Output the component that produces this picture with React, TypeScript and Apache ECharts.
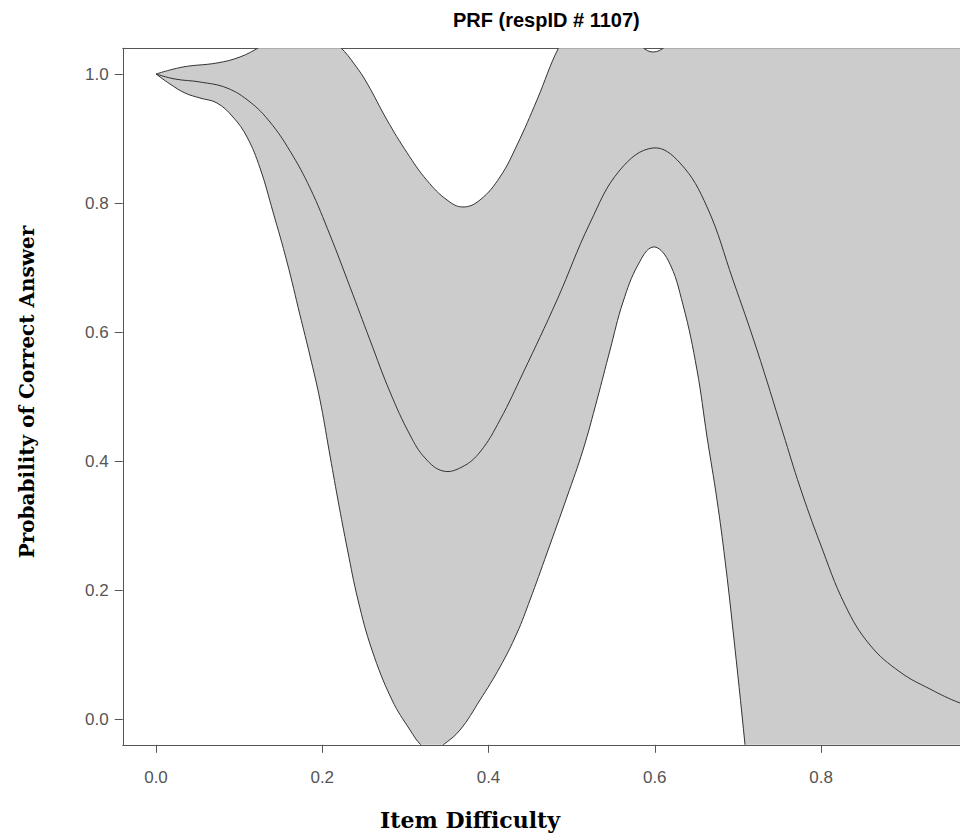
import React, { useEffect, useRef } from "react";
import * as echarts from "echarts";

const TITLE = "PRF (respID # 1107)";
const X_LABEL = "Item Difficulty";
const Y_LABEL = "Probability of Correct Answer";

const xTicks = [0, 0.2, 0.4, 0.6, 0.8];
const yTicks = [0, 0.2, 0.4, 0.6, 0.8, 1.0];

// Upper confidence band [item difficulty, probability]
const upperBand: [number, number][] = [
  [0, 1.0], [0.0325, 1.0109], [0.0734, 1.0171], [0.1011, 1.0264], [0.1251, 1.0419],
  [0.1492, 1.0605], [0.1732, 1.0713], [0.1973, 1.0651], [0.2214, 1.0419], [0.2394, 1.014],
  [0.2538, 0.986], [0.2779, 0.9287], [0.302, 0.878], [0.326, 0.835], [0.3501, 0.8047],
  [0.3693, 0.7938], [0.3898, 0.8047], [0.4138, 0.8403], [0.4343, 0.8899], [0.4583, 0.9597],
  [0.4848, 1.0419], [0.5101, 1.0915], [0.5462, 1.0915], [0.5702, 1.0605], [0.5847, 1.0419],
  [0.5979, 1.0341], [0.6123, 1.0419], [0.6424, 1.076], [0.6905, 1.1147], [0.7747, 1.1612],
  [1.0153, 1.17],
];

// Person response function (middle curve)
const middleCurve: [number, number][] = [
  [0, 1.0], [0.0229, 0.9922], [0.0529, 0.9876], [0.0854, 0.9783], [0.1131, 0.9566],
  [0.1371, 0.9256], [0.1612, 0.8806], [0.1853, 0.8233], [0.2093, 0.7504], [0.2334, 0.6698],
  [0.2574, 0.5876], [0.2815, 0.507], [0.3056, 0.4403], [0.3236, 0.4047], [0.3453, 0.3845],
  [0.3681, 0.3907], [0.3898, 0.414], [0.4138, 0.4636], [0.4415, 0.5364], [0.4824, 0.6496],
  [0.5221, 0.769], [0.5582, 0.8512], [0.5979, 0.8853], [0.6304, 0.862], [0.6629, 0.7938],
  [0.6941, 0.6806], [0.723, 0.5721], [0.7543, 0.4434], [0.7747, 0.3597], [0.7988, 0.2729],
  [0.8289, 0.1767], [0.8589, 0.1147], [0.895, 0.0729], [0.9311, 0.0465], [0.9672, 0.0248],
  [1.0033, 0.0109],
];

// Lower confidence band
const lowerBand: [number, number][] = [
  [0, 1.0], [0.0168, 0.9845], [0.0349, 0.9705], [0.0529, 0.9628], [0.0734, 0.955],
  [0.0926, 0.9333], [0.1095, 0.9023], [0.1251, 0.8543], [0.1408, 0.786], [0.1576, 0.7085],
  [0.1732, 0.6264], [0.1853, 0.5628], [0.1973, 0.4946], [0.2081, 0.4171], [0.2189, 0.3395],
  [0.2304, 0.262], [0.243, 0.1845], [0.2598, 0.107], [0.2839, 0.0295], [0.3056, -0.0171],
  [0.3188, -0.0403], [0.332, -0.0512], [0.3453, -0.0403], [0.3657, -0.0171], [0.3898, 0.0295],
  [0.4138, 0.0806], [0.4343, 0.1333], [0.4499, 0.1845], [0.4704, 0.2574], [0.4944, 0.3442],
  [0.5137, 0.4171], [0.5305, 0.4946], [0.5462, 0.5721], [0.5618, 0.6465], [0.5798, 0.7039],
  [0.5979, 0.7318], [0.6159, 0.7116], [0.634, 0.6419], [0.6508, 0.5411], [0.6629, 0.4372],
  [0.6749, 0.3395], [0.6845, 0.2465], [0.6941, 0.138], [0.7086, -0.0403], [0.7266, -0.2806],
  [0.7747, -0.5], [1.0153, -0.6],
];

const X_MIN = -0.04;
const X_MAX = 0.9672;
const Y_MIN = -0.04;
const Y_MAX = 1.04;

export default function App() {
  const ref = useRef<HTMLDivElement>(null);

  useEffect(() => {
    const chart = echarts.init(ref.current!, null, { renderer: "svg" });
    const axisColor = "#555";
    const curveColor = "#333";
    const fillColor = "#cccccc";
    const SMOOTH = 0.4;
    const sans = "'Liberation Sans', Arial, sans-serif";
    const serif = "'DejaVu Serif', 'Liberation Serif', serif";

    const axisLine = { show: true, onZero: false, lineStyle: { color: axisColor, width: 1 } };

    chart.setOption({
      animation: false,
      backgroundColor: "#ffffff",
      grid: { left: 122.75, right: 0, top: 48.2, bottom: 91.2 },
      xAxis: [
        {
          type: "value",
          min: X_MIN,
          max: X_MAX,
          position: "bottom",
          axisLine,
          axisTick: { show: true, customValues: xTicks, length: 8, lineStyle: { color: axisColor, width: 1 } },
          axisLabel: {
            customValues: xTicks,
            formatter: (v: number) => v.toFixed(1),
            fontSize: 17,
            color: axisColor,
            margin: 24,
            fontFamily: sans,
          },
          splitLine: { show: false },
        },
        {
          type: "value",
          min: X_MIN,
          max: X_MAX,
          position: "top",
          axisLine,
          axisTick: { show: false },
          axisLabel: { show: false },
          splitLine: { show: false },
        },
      ],
      yAxis: {
        type: "value",
        min: Y_MIN,
        max: Y_MAX,
        position: "left",
        axisLine,
        axisTick: { show: true, customValues: yTicks, length: 8, lineStyle: { color: axisColor, width: 1 } },
        axisLabel: {
          customValues: yTicks,
          formatter: (v: number) => v.toFixed(1),
          fontSize: 17,
          color: axisColor,
          margin: 14,
          fontFamily: sans,
        },
        splitLine: { show: false },
      },
      series: [
        {
          type: "custom",
          clip: true,
          silent: true,
          xAxisIndex: 0,
          yAxisIndex: 0,
          data: [[0, 0]],
          renderItem: (_params: any, api: any) => {
            const toPx = (pts: [number, number][]) => pts.map((p) => api.coord(p));
            const up = toPx(upperBand);
            const mid = toPx(middleCurve);
            const lo = toPx(lowerBand);
            const poly = up.concat(lo.slice().reverse());
            const line = (pts: number[][]) => ({
              type: "polyline",
              shape: { points: pts, smooth: SMOOTH },
              style: { fill: "none", stroke: curveColor, lineWidth: 1 },
            });
            return {
              type: "group",
              children: [
                {
                  type: "polygon",
                  shape: { points: poly, smooth: SMOOTH },
                  style: { fill: fillColor, stroke: "none" },
                },
                line(up),
                line(mid),
                line(lo),
              ],
            };
          },
        },
      ],
      graphic: [
        {
          type: "text",
          left: 453,
          top: 10,
          style: { text: TITLE, fontSize: 20, fontWeight: "bold", fill: "#000", fontFamily: sans },
        },
        {
          type: "text",
          x: 470,
          y: 820,
          style: {
            text: X_LABEL,
            fontSize: 22,
            fontWeight: "bold",
            fill: "#000",
            fontFamily: serif,
            align: "center",
            verticalAlign: "middle",
          },
        },
        {
          type: "text",
          x: 27,
          y: 392,
          rotation: Math.PI / 2,
          style: {
            text: Y_LABEL,
            fontSize: 20,
            fontWeight: "bold",
            fill: "#000",
            fontFamily: serif,
            align: "center",
            verticalAlign: "middle",
          },
        },
      ],
    });
    return () => chart.dispose();
  }, []);

  return <div ref={ref} style={{ position: "absolute", left: 0, top: 0, width: 960, height: 836 }} />;
}
